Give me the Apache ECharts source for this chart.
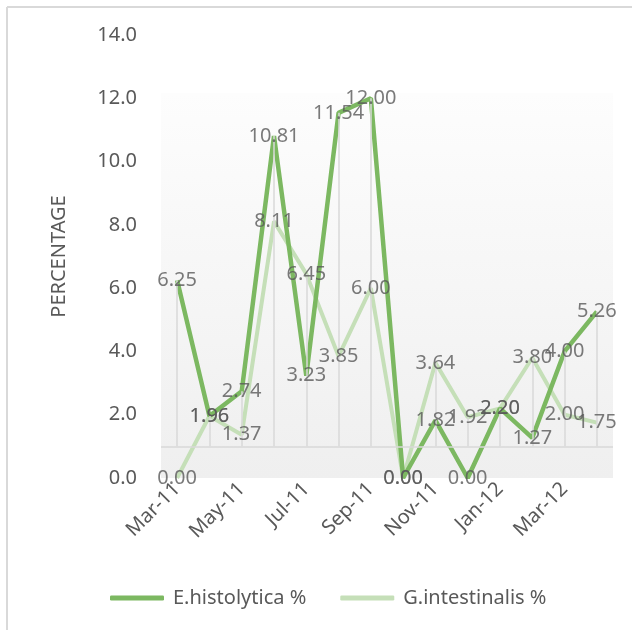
<!DOCTYPE html>
<html>
<head>
<meta charset="utf-8">
<script src="https://cdn.jsdelivr.net/npm/echarts@6/dist/echarts.min.js"></script>
<style>
  html, body { margin: 0; padding: 0; background: #fff; }
  #chart { width: 632px; height: 630px; }
</style>
</head>
<body>
<div id="chart"></div>
<script>
// data
var months = ['Mar-11', 'Apr-11', 'May-11', 'Jun-11', 'Jul-11', 'Aug-11', 'Sep-11',
              'Oct-11', 'Nov-11', 'Dec-11', 'Jan-12', 'Feb-12', 'Mar-12', 'Apr-12'];
var histolytica = [6.25, 1.96, 2.74, 10.81, 3.23, 11.54, 12.00, 0.00, 1.82, 0.00, 2.20, 1.27, 4.00, 5.26];
var intestinalis = [0.00, 1.96, 1.37, 8.11, 6.45, 3.85, 6.00, 0.00, 3.64, 1.92, 2.20, 3.80, 2.00, 1.75];
var yTicks = [0, 2, 4, 6, 8, 10, 12, 14];

var txt = '#595959';
var font = 'Noto Sans';
var fs = 20;

// drop lines from the higher point down to the floor line
var floorVal = 1.0;
var drops = months.map(function (m, i) {
    var top = Math.max(histolytica[i], intestinalis[i]);
    return [{ coord: [m, floorVal] }, { coord: [m, top] }];
}).filter(function (d) { return d[1].coord[1] > floorVal; });

function labelSeries(name, data) {
    // invisible points that only carry the value labels, kept above both lines
    return {
        name: name + ' labels',
        type: 'scatter',
        data: data,
        symbolSize: 0,
        z: 10,
        silent: true,
        label: {
            show: true, position: 'inside', color: txt, fontSize: fs, fontFamily: font,
            formatter: function (p) { return p.value.toFixed(2); }
        }
    };
}

var chart = echarts.init(document.getElementById('chart'));
chart.setOption({
    animation: false,
    textStyle: { fontFamily: font },
    graphic: [
        { type: 'line', shape: { x1: 7, y1: 7, x2: 632, y2: 7 }, style: { stroke: '#d9d9d9', lineWidth: 2 }, silent: true },
        { type: 'line', shape: { x1: 7, y1: 7, x2: 7, y2: 630 }, style: { stroke: '#d9d9d9', lineWidth: 2 }, silent: true }
    ],
    grid: { left: 161, right: 19, top: 35, bottom: 152 },
    legend: {
        left: 105,
        top: 583,
        itemWidth: 54,
        itemHeight: 5,
        itemGap: 34,
        icon: 'roundRect',
        textStyle: { color: txt, fontSize: fs, fontFamily: font, padding: [0, 0, 0, 4] },
        data: ['E.histolytica %', 'G.intestinalis %']
    },
    xAxis: {
        type: 'category',
        data: months,
        boundaryGap: true,
        axisLine: { show: false },
        axisTick: { show: false },
        axisLabel: { interval: 1, rotate: 45, color: txt, fontSize: fs, fontFamily: font, margin: 8 }
    },
    yAxis: {
        type: 'value',
        min: yTicks[0],
        max: yTicks[yTicks.length - 1],
        interval: 2,
        name: 'PERCENTAGE',
        nameLocation: 'middle',
        nameRotate: 90,
        nameGap: 92,
        nameTextStyle: { color: txt, fontSize: fs, fontFamily: font },
        axisLine: { show: false },
        axisTick: { show: false },
        splitLine: { show: false },
        axisLabel: {
            color: txt, fontSize: fs, fontFamily: font, margin: 24,
            formatter: function (v) { return v.toFixed(1); }
        }
    },
    series: [
        {
            name: 'G.intestinalis %',
            type: 'line',
            data: intestinalis,
            symbol: 'none',
            z: 3,
            lineStyle: { color: '#c5dfb8', width: 4 },
            itemStyle: { color: '#c5dfb8' },
            markArea: {
                silent: true,
                z: 0,
                itemStyle: {
                    color: new echarts.graphic.LinearGradient(0, 0, 0, 1, [
                        { offset: 0, color: '#fdfdfd' },
                        { offset: 1, color: '#efefef' }
                    ])
                },
                data: [[{ yAxis: 0 }, { yAxis: 12.17 }]]
            },
            markLine: {
                silent: true,
                symbol: 'none',
                label: { show: false },
                lineStyle: { color: '#d9d9d9', width: 1.5, type: 'solid' },
                data: drops.concat([{ yAxis: floorVal }])
            }
        },
        {
            name: 'E.histolytica %',
            type: 'line',
            data: histolytica,
            symbol: 'none',
            z: 4,
            lineStyle: { color: '#7cb861', width: 4.5 },
            itemStyle: { color: '#7cb861' }
        },
        labelSeries('E.histolytica %', histolytica),
        labelSeries('G.intestinalis %', intestinalis)
    ]
});
</script>
</body>
</html>
